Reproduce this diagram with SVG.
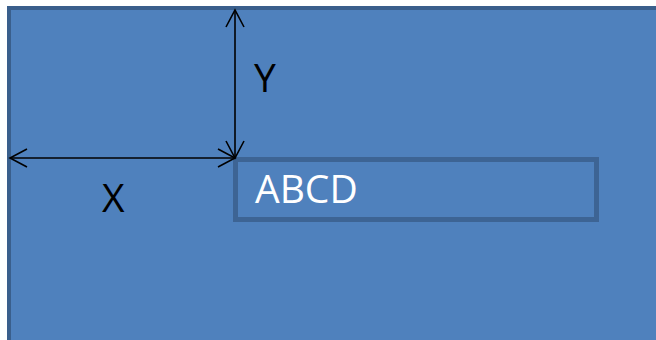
<svg xmlns="http://www.w3.org/2000/svg" width="656" height="340" viewBox="0 0 656 340">
<style>
.bg{fill:#4F81BD;stroke:#3A5F8C;stroke-width:4}
.box{fill:#4F81BD;stroke:#3D6494;stroke-width:5}
.conn{stroke:#000;stroke-width:1.6;fill:none;marker-start:url(#ah);marker-end:url(#ah)}
.lbl{font-family:"Open Sans","Liberation Sans",sans-serif;font-size:39px}
</style>
<defs>
<marker id="ah" viewBox="0 0 20 20" refX="18" refY="10" markerWidth="20" markerHeight="20" markerUnits="userSpaceOnUse" orient="auto-start-reverse">
<path d="M1,1 L18,10 L1,19" fill="none" stroke="#000" stroke-width="1.6"/>
</marker>
</defs>
<rect width="656" height="340" fill="#fff"/>
<g id="canvas"><rect class="bg" x="9" y="8" width="700" height="400"/></g>
<g id="box"><rect class="box" x="235.5" y="159.5" width="361" height="60"/>
<text class="lbl" x="255" y="203" fill="#fff">ABCD</text></g>
<g id="connectors">
<line class="conn" x1="235" y1="158" x2="235" y2="10"/>
<line class="conn" x1="235" y1="158" x2="10" y2="158"/>
</g>
<g id="labels">
<text class="lbl" x="254" y="92" fill="#000" font-size="41">Y</text>
<text class="lbl" x="102" y="212" fill="#000" font-size="41">X</text>
</g>
</svg>
